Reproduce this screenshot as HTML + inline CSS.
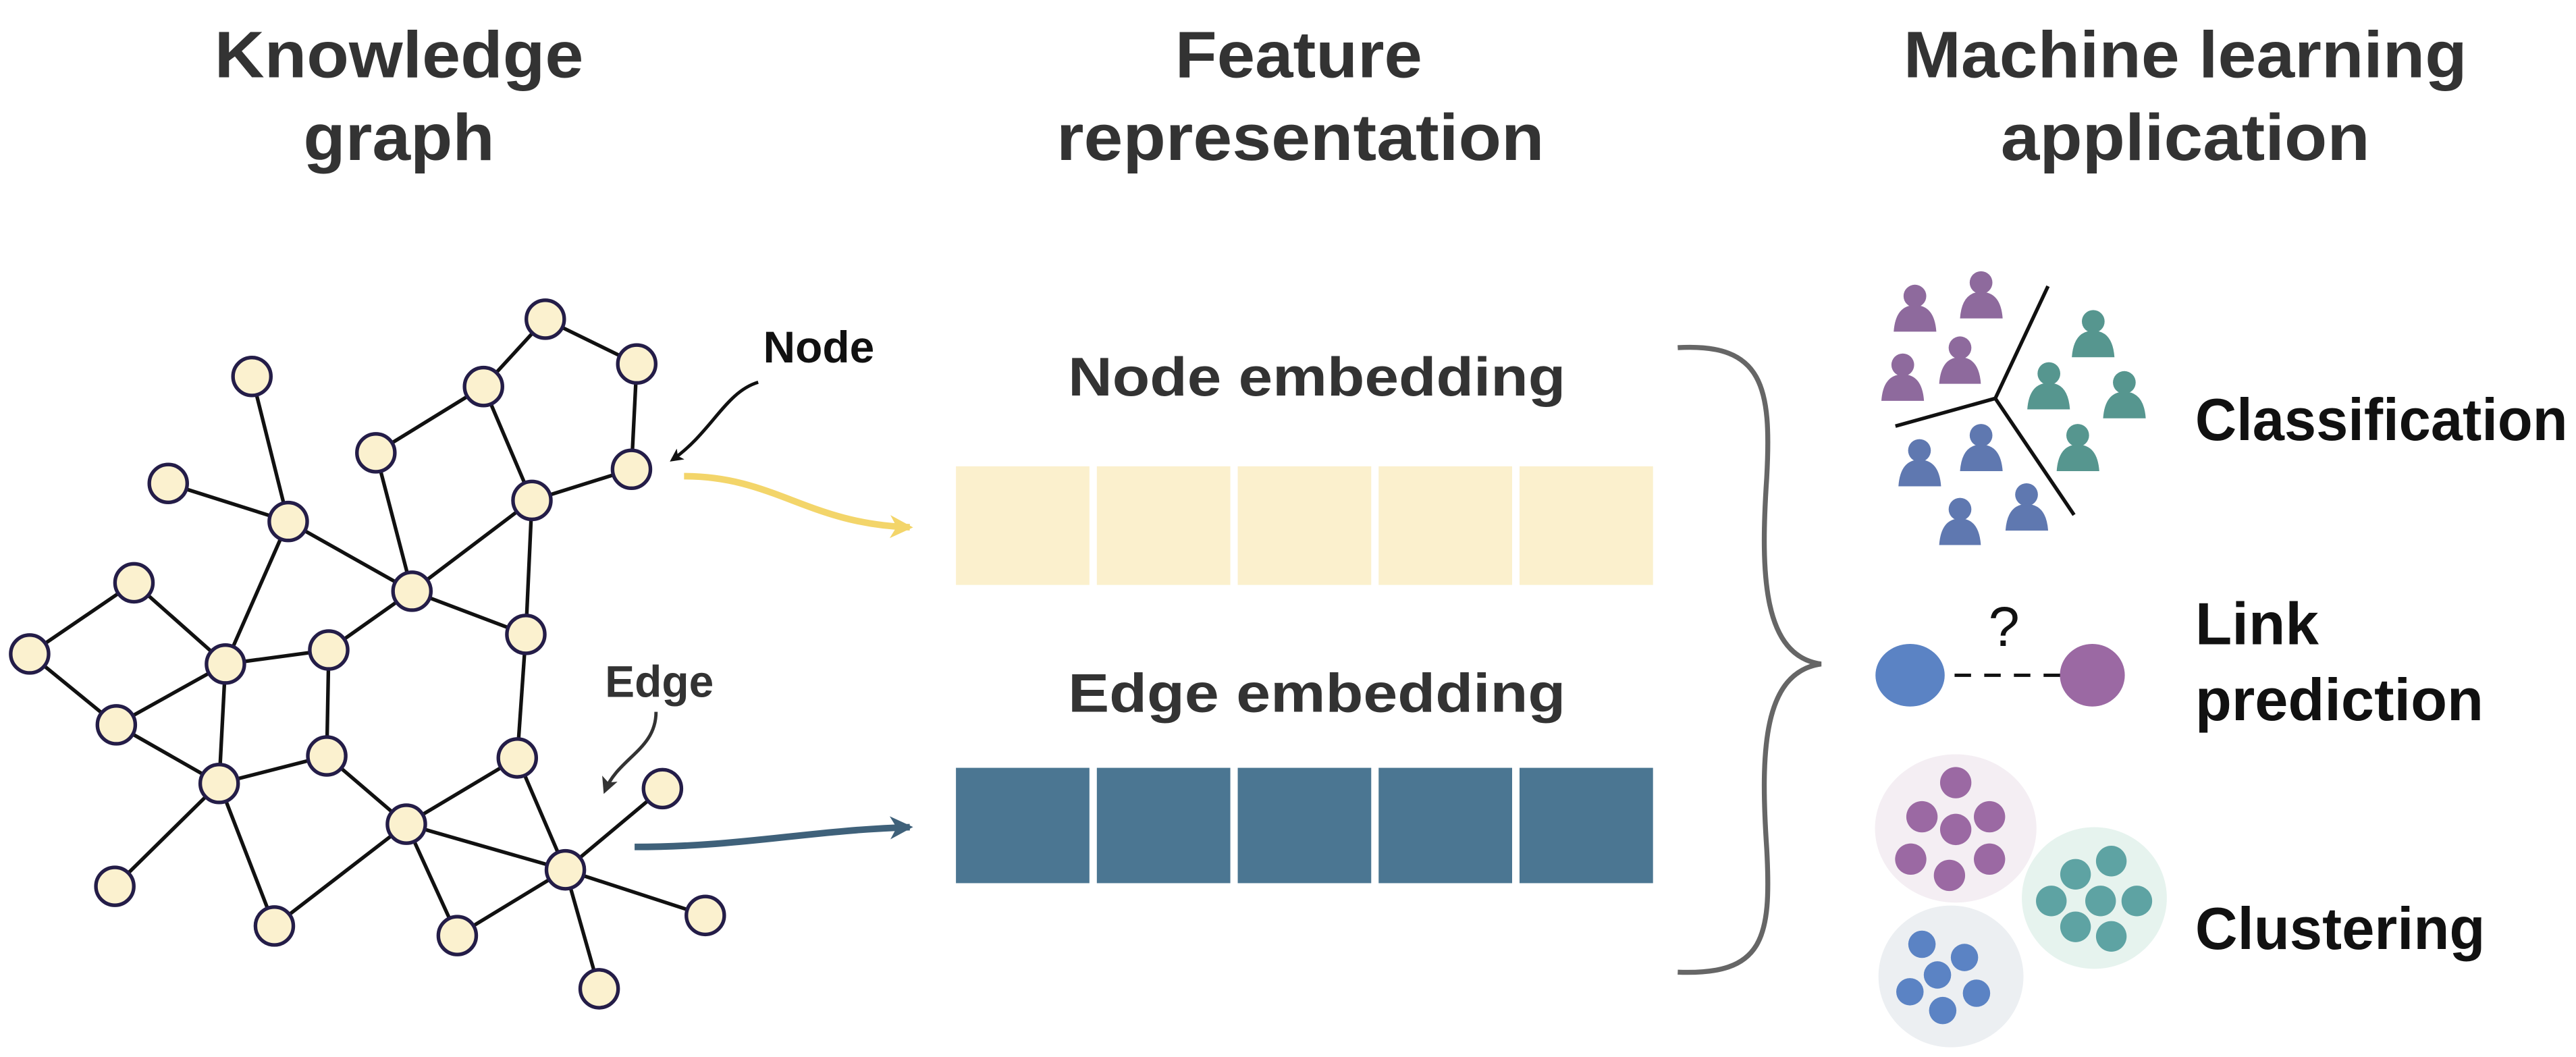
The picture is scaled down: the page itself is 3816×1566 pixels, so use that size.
<!DOCTYPE html>
<html><head><meta charset="utf-8"><style>
html,body{margin:0;padding:0;background:#fff;}
svg{display:block;}
text{font-family:"Liberation Sans",sans-serif;font-weight:bold;}
</style></head><body>
<svg width="3816" height="1566" viewBox="0 0 1563 641.5" xmlns="http://www.w3.org/2000/svg">
<defs>
<marker id="ah" markerWidth="8" markerHeight="8" refX="6" refY="4" orient="auto" markerUnits="userSpaceOnUse"><path d="M0,0 L8,4 L0,8 L2,4 Z" fill="#111"/></marker>
<marker id="ahg" markerWidth="10" markerHeight="10" refX="8" refY="5" orient="auto" markerUnits="userSpaceOnUse"><path d="M0,0 L10,5 L0,10 L2.5,5 Z" fill="#333"/></marker>
<marker id="ay" markerWidth="14" markerHeight="14" refX="12" refY="7" orient="auto" markerUnits="userSpaceOnUse"><path d="M0,0 L14,7 L0,14 L4,7 Z" fill="#f3d56a"/></marker>
<marker id="ab" markerWidth="14" markerHeight="14" refX="12" refY="7" orient="auto" markerUnits="userSpaceOnUse"><path d="M0,0 L14,7 L0,14 L4,7 Z" fill="#3f617a"/></marker>
</defs>

<g fill="#333" font-size="40" text-anchor="middle">
<text x="242" y="47" textLength="224" lengthAdjust="spacingAndGlyphs">Knowledge</text>
<text x="242" y="97" textLength="116" lengthAdjust="spacingAndGlyphs">graph</text>
<text x="788" y="47" textLength="150" lengthAdjust="spacingAndGlyphs">Feature</text>
<text x="789" y="97" textLength="296" lengthAdjust="spacingAndGlyphs">representation</text>
<text x="1326" y="47" textLength="342" lengthAdjust="spacingAndGlyphs">Machine learning</text>
<text x="1326" y="97" textLength="224" lengthAdjust="spacingAndGlyphs">application</text>
</g>

<g stroke="#111" stroke-width="2.2">
<line x1="330.8" y1="193.7" x2="293.3" y2="234.6"/>
<line x1="330.8" y1="193.7" x2="386.3" y2="220.9"/>
<line x1="386.3" y1="220.9" x2="383.1" y2="284.8"/>
<line x1="293.3" y1="234.6" x2="228" y2="274.8"/>
<line x1="293.3" y1="234.6" x2="322.7" y2="303.7"/>
<line x1="383.1" y1="284.8" x2="322.7" y2="303.7"/>
<line x1="228" y1="274.8" x2="249.9" y2="358.8"/>
<line x1="322.7" y1="303.7" x2="249.9" y2="358.8"/>
<line x1="322.7" y1="303.7" x2="319" y2="385"/>
<line x1="152.8" y1="228.5" x2="174.8" y2="316.5"/>
<line x1="102" y1="293.4" x2="174.8" y2="316.5"/>
<line x1="174.8" y1="316.5" x2="249.9" y2="358.8"/>
<line x1="174.8" y1="316.5" x2="136.7" y2="403"/>
<line x1="249.9" y1="358.8" x2="199.4" y2="394.5"/>
<line x1="249.9" y1="358.8" x2="319" y2="385"/>
<line x1="81.2" y1="353.7" x2="17.9" y2="396.9"/>
<line x1="81.2" y1="353.7" x2="136.7" y2="403"/>
<line x1="17.9" y1="396.9" x2="70.5" y2="439.9"/>
<line x1="136.7" y1="403" x2="199.4" y2="394.5"/>
<line x1="136.7" y1="403" x2="70.5" y2="439.9"/>
<line x1="136.7" y1="403" x2="132.9" y2="475.5"/>
<line x1="199.4" y1="394.5" x2="198.2" y2="458.8"/>
<line x1="70.5" y1="439.9" x2="132.9" y2="475.5"/>
<line x1="132.9" y1="475.5" x2="198.2" y2="458.8"/>
<line x1="132.9" y1="475.5" x2="69.6" y2="537.9"/>
<line x1="132.9" y1="475.5" x2="166.4" y2="562"/>
<line x1="198.2" y1="458.8" x2="246.5" y2="500.2"/>
<line x1="319" y1="385" x2="313.8" y2="460"/>
<line x1="313.8" y1="460" x2="246.5" y2="500.2"/>
<line x1="313.8" y1="460" x2="343" y2="527.9"/>
<line x1="246.5" y1="500.2" x2="166.4" y2="562"/>
<line x1="246.5" y1="500.2" x2="343" y2="527.9"/>
<line x1="246.5" y1="500.2" x2="277.4" y2="567.8"/>
<line x1="277.4" y1="567.8" x2="343" y2="527.9"/>
<line x1="343" y1="527.9" x2="401.9" y2="478.6"/>
<line x1="343" y1="527.9" x2="427.9" y2="555.6"/>
<line x1="343" y1="527.9" x2="363.5" y2="600.1"/>
</g>
<g fill="#fbf1cf" stroke="#241d48" stroke-width="2.2">
<circle cx="330.8" cy="193.7" r="11.5"/><circle cx="386.3" cy="220.9" r="11.5"/>
<circle cx="293.3" cy="234.6" r="11.5"/><circle cx="228" cy="274.8" r="11.5"/>
<circle cx="383.1" cy="284.8" r="11.5"/><circle cx="152.8" cy="228.5" r="11.5"/>
<circle cx="102" cy="293.4" r="11.5"/><circle cx="174.8" cy="316.5" r="11.5"/>
<circle cx="322.7" cy="303.7" r="11.5"/><circle cx="249.9" cy="358.8" r="11.5"/>
<circle cx="81.2" cy="353.7" r="11.5"/><circle cx="17.9" cy="396.9" r="11.5"/>
<circle cx="136.7" cy="403" r="11.5"/><circle cx="199.4" cy="394.5" r="11.5"/>
<circle cx="319" cy="385" r="11.5"/><circle cx="70.5" cy="439.9" r="11.5"/>
<circle cx="132.9" cy="475.5" r="11.5"/><circle cx="198.2" cy="458.8" r="11.5"/>
<circle cx="313.8" cy="460" r="11.5"/><circle cx="246.5" cy="500.2" r="11.5"/>
<circle cx="401.9" cy="478.6" r="11.5"/><circle cx="343" cy="527.9" r="11.5"/>
<circle cx="69.6" cy="537.9" r="11.5"/><circle cx="166.4" cy="562" r="11.5"/>
<circle cx="277.4" cy="567.8" r="11.5"/><circle cx="427.9" cy="555.6" r="11.5"/>
<circle cx="363.5" cy="600.1" r="11.5"/>
</g>

<text x="463" y="220" font-size="27" fill="#111">Node</text>
<path d="M460,232 C440,238 432,262 408,279" fill="none" stroke="#111" stroke-width="2" marker-end="url(#ah)"/>
<text x="367" y="423" font-size="27" fill="#333">Edge</text>
<path d="M398,432 C398,455 375,460 367,480" fill="none" stroke="#333" stroke-width="2" marker-end="url(#ahg)"/>
<path d="M415,289 C470,289 490,318 552,320" fill="none" stroke="#f3d56a" stroke-width="4" marker-end="url(#ay)"/>
<path d="M385,514 C450,514 490,504 552,502" fill="none" stroke="#3f617a" stroke-width="4" marker-end="url(#ab)"/>

<text x="799" y="240" font-size="33" fill="#333" text-anchor="middle" textLength="302" lengthAdjust="spacingAndGlyphs">Node embedding</text>
<g fill="#fbf0cd">
<rect x="580" y="283" width="81" height="72"/><rect x="665.5" y="283" width="81" height="72"/>
<rect x="751" y="283" width="81" height="72"/><rect x="836.5" y="283" width="81" height="72"/>
<rect x="922" y="283" width="81" height="72"/>
</g>
<text x="799" y="432" font-size="33" fill="#333" text-anchor="middle" textLength="302" lengthAdjust="spacingAndGlyphs">Edge embedding</text>
<g fill="#4b7692">
<rect x="580" y="466" width="81" height="70"/><rect x="665.5" y="466" width="81" height="70"/>
<rect x="751" y="466" width="81" height="70"/><rect x="836.5" y="466" width="81" height="70"/>
<rect x="922" y="466" width="81" height="70"/>
</g>

<path d="M1018,211 C1070,208 1075,235 1072,290 C1068,350 1070,398 1105,403 C1070,408 1068,455 1072,515 C1075,570 1070,592 1018,590" fill="none" stroke="#666" stroke-width="3"/>

<g stroke="#111" stroke-width="2.2" fill="none">
<line x1="1210.7" y1="241.8" x2="1242.7" y2="173.7"/>
<line x1="1210.7" y1="241.8" x2="1150.1" y2="258.6"/>
<line x1="1210.7" y1="241.8" x2="1258.5" y2="312.5"/>
</g>
<g transform="translate(1210 245) scale(1.15) translate(-1210 -245)">
<g fill="#8e6a9d">
<circle cx="1168.2" cy="188.2" r="6"/><path d="M1157,207 Q1158,193 1168.2,193 Q1178.5,193 1179.5,207 Z"/>
<circle cx="1203.1" cy="181.1" r="6"/><path d="M1192,200 Q1193,186 1203.1,186 Q1213.5,186 1214.5,200 Z"/>
<circle cx="1161.8" cy="224.5" r="6"/><path d="M1150.5,243.5 Q1151.5,229.5 1161.8,229.5 Q1172,229.5 1173,243.5 Z"/>
<circle cx="1192" cy="215.5" r="6"/><path d="M1181,234.5 Q1182,220.5 1192,220.5 Q1202,220.5 1203,234.5 Z"/>
</g>
<g fill="#56968f">
<circle cx="1262.3" cy="201.6" r="6"/><path d="M1251,220.5 Q1252,206.5 1262.3,206.5 Q1272.5,206.5 1273.5,220.5 Z"/>
<circle cx="1238.9" cy="229.1" r="6"/><path d="M1227.5,248 Q1228.5,234 1238.9,234 Q1249,234 1250,248 Z"/>
<circle cx="1278.7" cy="233.8" r="6"/><path d="M1267.5,252.7 Q1268.5,238.7 1278.7,238.7 Q1289,238.7 1290,252.7 Z"/>
<circle cx="1254.1" cy="261.7" r="6"/><path d="M1243,280.6 Q1244,266.6 1254.1,266.6 Q1264.5,266.6 1265.5,280.6 Z"/>
</g>
<g fill="#5f78b0">
<circle cx="1170.6" cy="269.7" r="6"/><path d="M1159.5,288.6 Q1160.5,274.6 1170.6,274.6 Q1181,274.6 1182,288.6 Z"/>
<circle cx="1203.1" cy="261.7" r="6"/><path d="M1192,280.6 Q1193,266.6 1203.1,266.6 Q1213.5,266.6 1214.5,280.6 Z"/>
<circle cx="1192" cy="300.7" r="6"/><path d="M1181,319.6 Q1182,305.6 1192,305.6 Q1202,305.6 1203,319.6 Z"/>
<circle cx="1227.1" cy="293" r="6"/><path d="M1216,312 Q1217,298 1227.1,298 Q1237.5,298 1238.5,312 Z"/>
</g>
</g>
<text x="1332" y="267" font-size="36" fill="#111" textLength="226" lengthAdjust="spacingAndGlyphs">Classification</text>

<ellipse cx="1159" cy="409.8" rx="21" ry="19" fill="#5b83c4"/>
<ellipse cx="1269.6" cy="409.8" rx="19.7" ry="19" fill="#9b69a3"/>
<line x1="1186" y1="409.8" x2="1250" y2="409.8" stroke="#111" stroke-width="2" stroke-dasharray="10,8"/>
<text x="1216" y="392" font-size="34" fill="#111" text-anchor="middle" style="font-weight:normal">?</text>
<text x="1332" y="391" font-size="36" fill="#111" textLength="75" lengthAdjust="spacingAndGlyphs">Link</text>
<text x="1332" y="437" font-size="36" fill="#111" textLength="175" lengthAdjust="spacingAndGlyphs">prediction</text>

<ellipse cx="1186.7" cy="502.8" rx="49" ry="45" fill="#f4eef3"/>
<ellipse cx="1270.8" cy="545" rx="44" ry="43" fill="#e6f3ee"/>
<ellipse cx="1183.8" cy="592.6" rx="44" ry="43" fill="#eceff2"/>
<g fill="#9b69a3">
<circle cx="1186.7" cy="475" r="9.5"/><circle cx="1166.2" cy="495.7" r="9.5"/><circle cx="1207.2" cy="495.7" r="9.5"/>
<circle cx="1186.7" cy="503.4" r="9.5"/><circle cx="1159.4" cy="521.4" r="9.5"/><circle cx="1207.2" cy="521.4" r="9.5"/>
<circle cx="1182.9" cy="531.3" r="9.5"/>
</g>
<g fill="#5ea3a3">
<circle cx="1281.1" cy="522.6" r="9.3"/><circle cx="1259.4" cy="530.6" r="9.3"/><circle cx="1244.7" cy="546.8" r="9.3"/>
<circle cx="1274.6" cy="546.8" r="9.3"/><circle cx="1296.6" cy="546.8" r="9.3"/><circle cx="1259.4" cy="562.5" r="9.3"/>
<circle cx="1281.1" cy="568.3" r="9.3"/>
</g>
<g fill="#5b83c4">
<circle cx="1166.2" cy="573.1" r="8.3"/><circle cx="1192" cy="581.1" r="8.3"/><circle cx="1175.6" cy="591.7" r="8.3"/>
<circle cx="1158.9" cy="601.9" r="8.3"/><circle cx="1199.3" cy="602.8" r="8.3"/><circle cx="1178.8" cy="613.3" r="8.3"/>
</g>
<text x="1332" y="576" font-size="36" fill="#111" textLength="176" lengthAdjust="spacingAndGlyphs">Clustering</text>
</svg>
</body></html>
